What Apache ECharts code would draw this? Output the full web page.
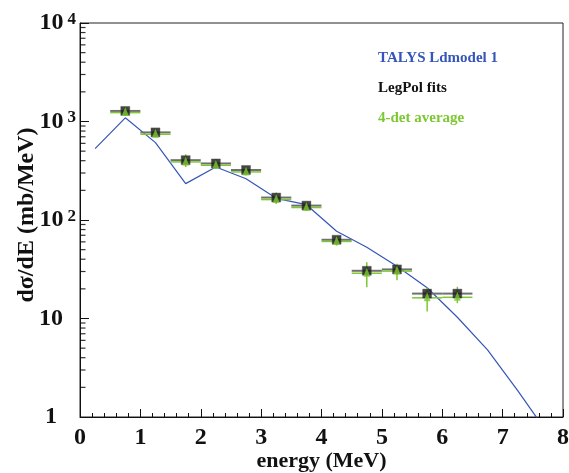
<!DOCTYPE html>
<html>
<head>
<meta charset="utf-8">
<script src="https://cdn.jsdelivr.net/npm/echarts@6/dist/echarts.min.js"></script>
<style>html,body{margin:0;padding:0;background:#fff;}#c{width:569px;height:473px;}</style>
</head>
<body>
<div id="c"></div>
<script>
// ---- data ----
var talysX = [0.25, 0.75, 1.25, 1.75, 2.25, 2.75, 3.25, 3.75, 4.25, 4.75, 5.25, 5.75, 6.25, 6.75, 7.25, 7.75];
var talysY = [530, 1090, 610, 234, 345, 262, 166, 143, 77, 53, 34, 20.5, 10.3, 4.8, 1.85, 0.68];
var binX = [0.75, 1.25, 1.75, 2.25, 2.75, 3.25, 3.75, 4.25, 4.75, 5.25, 5.75, 6.25];
var legPol = [1280, 775, 405, 375, 322, 169, 140, 63, 30.5, 31.5, 17.9, 17.9];
var avg4 = [1260, 760, 398, 368, 315, 165, 137, 62, 29.5, 31, 16.6, 16.8];
var avgLo = [1140, 690, 345, 330, 285, 145, 124, 55, 20.8, 24.4, 11.8, 14.3];
var avgHi = [1400, 840, 465, 415, 350, 190, 152, 69, 37.3, 36, 20.6, 21];
var binHalf = 0.25;
var xTicks = ['0', '1', '2', '3', '4', '5', '6', '7', '8'];
var yDecades = [1, 10, 100, 1000, 10000];

var FONT = '"Liberation Serif", "Times New Roman", serif';
var BLUE = '#3556b8';
var GREEN = '#7cc832';

var minorY = [];
for (var d = 0; d < yDecades.length - 1; d++) {
  for (var m = 2; m <= 9; m++) minorY.push([0, m * yDecades[d]]);
}

function zip2(a, b) { return a.map(function (v, i) { return [v, b[i]]; }); }

var chart = echarts.init(document.getElementById('c'), null, {renderer: 'canvas'});

var option = {
  animation: false,
  backgroundColor: '#fff',
  grid: {left: 80, right: 6, top: 23, bottom: 56, show: true, borderColor: '#222', borderWidth: 1,
         containLabel: false, outerBoundsMode: 'none'},
  legend: {
    orient: 'vertical',
    left: 368,
    top: 46,
    itemWidth: 0,
    itemHeight: 0,
    itemGap: 15,
    selectedMode: false,
    textStyle: {fontFamily: FONT, fontWeight: 'bold', fontSize: 15},
    data: [
      {name: 'TALYS Ldmodel 1', icon: 'none', textStyle: {color: BLUE}},
      {name: 'LegPol fits', icon: 'none', textStyle: {color: '#111'}},
      {name: '4-det average', icon: 'none', textStyle: {color: GREEN}}
    ]
  },
  xAxis: {
    type: 'value',
    min: 0, max: 8, interval: 1,
    name: 'energy (MeV)',
    nameLocation: 'middle',
    nameGap: 33,
    nameMoveOverlap: false,
    nameTextStyle: {fontFamily: FONT, fontWeight: 'bold', fontSize: 22, color: '#111'},
    axisLine: {show: true, lineStyle: {color: '#111', width: 1}},
    axisTick: {show: true, inside: true, length: 8, lineStyle: {color: '#111'}},
    minorTick: {show: true, splitNumber: 5, length: 4, lineStyle: {color: '#111'}},
    splitLine: {show: false},
    axisLabel: {
      margin: 9, fontFamily: FONT, fontWeight: 'bold', fontSize: 24, color: '#111',
      formatter: function (v) { return xTicks[Math.round(v)]; }
    }
  },
  yAxis: {
    type: 'log',
    logBase: 10,
    min: 1, max: 10000,
    name: 'dσ/dE (mb/MeV)',
    nameLocation: 'middle',
    nameGap: 41,
    nameMoveOverlap: false,
    nameTextStyle: {fontFamily: FONT, fontWeight: 'bold', fontSize: 24, color: '#111', padding: [0, 0, 0, 10]},
    axisLine: {show: true, lineStyle: {color: '#111', width: 1}},
    axisTick: {show: true, inside: true, length: 9, lineStyle: {color: '#111', width: 1}},
    splitLine: {show: false},
    axisLabel: {
      margin: 4,
      formatter: function (v) {
        var e = Math.round(Math.log10(v));
        if (e === 0) return '{one|1}';
        if (e === 1) return '{ten|10}';
        return '{b|10}{s|' + e + '}';
      },
      rich: {
        one: {fontFamily: FONT, fontWeight: 'bold', fontSize: 24, color: '#111', padding: [0, 19, 0, 0]},
        ten: {fontFamily: FONT, fontWeight: 'bold', fontSize: 24, color: '#111', padding: [0, 13, 0, 0]},
        b: {fontFamily: FONT, fontWeight: 'bold', fontSize: 24, color: '#111', lineHeight: 24, verticalAlign: 'bottom'},
        s: {fontFamily: FONT, fontWeight: 'bold', fontSize: 17, color: '#111', lineHeight: 22, verticalAlign: 'top', padding: [0, 0, 12, 4]}
      }
    }
  },
  series: [
    {
      name: 'yMinorTicks',
      type: 'scatter',
      silent: true,
      clip: false,
      z: 10,
      symbol: 'rect',
      symbolSize: [5, 1.2],
      symbolOffset: [3, 0],
      itemStyle: {color: '#000'},
      emphasis: {disabled: true},
      data: minorY
    },
    {
      name: 'TALYS Ldmodel 1',
      type: 'line',
      data: zip2(talysX, talysY),
      showSymbol: false,
      symbol: 'none',
      clip: true,
      z: 2,
      lineStyle: {color: BLUE, width: 1.2},
      itemStyle: {color: BLUE}
    },
    {
      name: 'legPolBars',
      type: 'custom',
      silent: true,
      z: 3,
      data: zip2(binX, legPol),
      renderItem: function (params, api) {
        var x = api.value(0), y = api.value(1);
        var p1 = api.coord([x - binHalf, y]);
        var p2 = api.coord([x + binHalf, y]);
        return {type: 'line', shape: {x1: p1[0], y1: p1[1], x2: p2[0], y2: p2[1]}, style: {stroke: '#707070', lineWidth: 2}};
      }
    },
    {
      name: 'avgBars',
      type: 'custom',
      silent: true,
      z: 4,
      data: binX.map(function (x, i) { return [x, avg4[i], avgLo[i], avgHi[i]]; }),
      renderItem: function (params, api) {
        var x = api.value(0), y = api.value(1);
        var p1 = api.coord([x - binHalf, y]);
        var p2 = api.coord([x + binHalf, y]);
        var lo = api.coord([x, api.value(2)]);
        var hi = api.coord([x, api.value(3)]);
        return {
          type: 'group',
          children: [
            {type: 'line', shape: {x1: p1[0], y1: p1[1] + 1, x2: p2[0], y2: p2[1] + 1}, style: {stroke: GREEN, lineWidth: 1.5}},
            {type: 'line', shape: {x1: lo[0], y1: lo[1], x2: hi[0], y2: hi[1]}, style: {stroke: GREEN, lineWidth: 1.5}}
          ]
        };
      }
    },
    {
      name: 'LegPol fits',
      type: 'scatter',
      symbol: 'rect',
      symbolSize: 9,
      z: 5,
      data: zip2(binX, legPol),
      itemStyle: {color: '#151515', borderColor: '#555', borderWidth: 0.5}
    },
    {
      name: '4-det average',
      type: 'scatter',
      symbol: 'triangle',
      symbolSize: [7, 9],
      z: 6,
      data: zip2(binX, avg4),
      itemStyle: {color: GREEN}
    }
  ]
};
chart.setOption(option);
</script>
</body>
</html>
